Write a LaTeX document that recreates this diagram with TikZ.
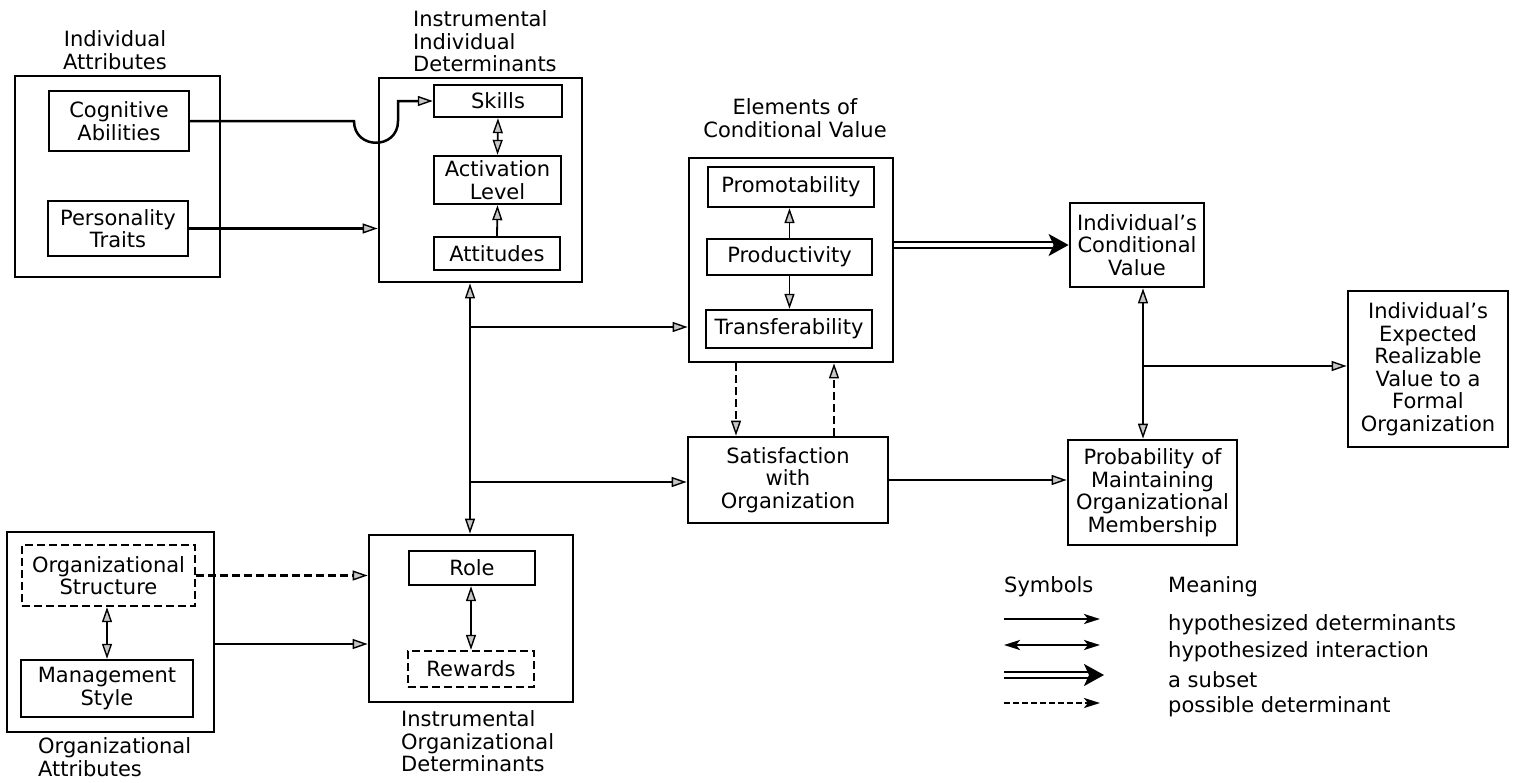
\documentclass[tikz,border=0pt]{standalone}
\usepackage{fontspec}
\setmainfont{DejaVu Sans}
\usetikzlibrary{arrows.meta}
\tikzset{
  outerbox/.style={draw, line width=2.8pt, inner sep=0pt},
  innerbox/.style={draw, line width=2.4pt, inner sep=0pt, align=center},
  dashbox/.style={innerbox, dash pattern=on 8pt off 4pt},
  lab/.style={inner sep=0pt},
  tipA/.tip={Triangle[length=15pt,width=10pt,fill=gray!45,line width=1.4pt]},
  arr/.style={line width=2.5pt, -tipA},
  arrboth/.style={line width=2.5pt, tipA-tipA},
  thinarr/.style={line width=1.8pt, -tipA},
  thinboth/.style={line width=1.8pt, tipA-tipA},
  darr/.style={arr, dash pattern=on 8pt off 4pt},
  subset/.style={line width=2.2pt, double=white, double distance=4pt, -{Stealth[length=20pt,width=22pt,inset=5pt]}},
  legtip/.tip={Stealth[length=16pt,width=10pt,inset=4pt]},
  legarr/.style={line width=2.4pt, -legtip},
  legboth/.style={line width=2.4pt, legtip-legtip},
}
\begin{document}
\begin{tikzpicture}[x=1pt, y=-1pt, font=\fontsize{21}{22.5}\selectfont]
\useasboundingbox (0,0) rectangle (1515,782);

% ---------- Individual attributes
\node[lab, align=center] (lia) at (115,50) {Individual\\Attributes};
\node[outerbox, minimum width=205, minimum height=201] (ia) at (117.5,176.5) {};
\node[innerbox, minimum width=140, minimum height=60] (cog) at (119,121) {Cognitive\\Abilities};
\node[innerbox, minimum width=140, minimum height=55] (pers) at (118,228.5) {Personality\\Traits};

% ---------- Instrumental individual determinants
\node[lab, align=left, anchor=west] (liid) at (413,41.5) {Instrumental\\Individual\\Determinants};
\node[outerbox, minimum width=203, minimum height=204] (iid) at (480.5,180) {};
\node[innerbox, minimum width=128, minimum height=32] (skills) at (498,101) {Skills};
\node[innerbox, minimum width=127, minimum height=48] (act) at (497.5,180) {Activation\\Level};
\node[innerbox, minimum width=126, minimum height=33] (att) at (497,253.5) {Attitudes};

% ---------- Elements of conditional value
\node[lab, align=center] (lel) at (795,118) {Elements of\\Conditional Value};
\node[outerbox, minimum width=204, minimum height=204] (elem) at (791,260) {};
\node[innerbox, minimum width=166, minimum height=40] (promo) at (791,187) {Promotability};
\node[innerbox, minimum width=165, minimum height=36] (prod) at (789.5,257) {Productivity};
\node[innerbox, minimum width=166, minimum height=38] (trans) at (789,329) {Transferability};

% ---------- Right side
\node[outerbox, align=center, minimum width=134, minimum height=84] (icv) at (1137,245) {Individual’s\\Conditional\\Value};
\node[outerbox, align=center, minimum width=160, minimum height=156] (exp) at (1428,369) {Individual’s\\Expected\\Realizable\\Value to a\\Formal\\Organization};
\node[outerbox, align=center, minimum width=200, minimum height=86] (sat) at (788,480) {Satisfaction\\with\\Organization};
\node[outerbox, align=center, minimum width=169, minimum height=105] (prob) at (1152.5,492.5) {Probability of\\Maintaining\\Organizational\\Membership};

% ---------- Organizational attributes
\node[outerbox, minimum width=207, minimum height=200] (oa) at (110.5,632) {};
\node[dashbox, minimum width=173, minimum height=61] (os) at (108.5,575.5) {Organizational\\Structure};
\node[innerbox, minimum width=172, minimum height=57] (ms) at (107,688.5) {Management\\Style};
\node[lab, align=left, anchor=west] (loa) at (38,757) {Organizational\\Attributes};

% ---------- Instrumental organizational determinants
\node[outerbox, minimum width=204, minimum height=167] (iod) at (471,618.5) {};
\node[innerbox, minimum width=126, minimum height=34] (role) at (472,568) {Role};
\node[dashbox, minimum width=126, minimum height=36] (rew) at (471,669) {Rewards};
\node[lab, align=left, anchor=west] (liod) at (401,741.5) {Instrumental\\Organizational\\Determinants};

% ---------- helper coordinates
\coordinate (h1) at (354,121);
\coordinate (h2) at (398,121);
\coordinate (bus) at (470,0);
\coordinate (b1) at (470,327);
\coordinate (b2) at (470,482);
\coordinate (cv) at (1143,0);
\coordinate (jn) at (1143,366);
\coordinate (d1) at (736,0);
\coordinate (d2) at (834,0);
\coordinate (oay) at (0,644);

% ---------- connectors
\draw[arr] (cog.east) -- (h1) .. controls (354,150) and (398,150) .. (h2) |- (skills.west);
\draw[arr] (pers.east) -- (pers.east -| iid.west);
\draw[thinboth] (skills.south) -- (act.north);
\draw[thinarr] (att.north) -- (act.south);
\draw[thinarr] (prod.north) -- (prod.north |- promo.south);
\draw[thinarr] (prod.south) -- (prod.south |- trans.north);

\draw[arrboth] (iid.south -| bus) -- (iod.north -| bus);
\draw[arr] (b1) -- (b1 -| elem.west);
\draw[arr] (b2) -- (b2 -| sat.west);

\draw[subset] (icv.west -| elem.east) -- (icv.west);
\draw[darr] (elem.south -| d1) -- (sat.north -| d1);
\draw[darr] (sat.north -| d2) -- (elem.south -| d2);
\draw[arr] (sat.east) -- (sat.east -| prob.west);
\draw[arrboth] (icv.south -| cv) -- (prob.north -| cv);
\draw[arr] (jn) -- (jn -| exp.west);

\draw[darr] (os.east) -- (os.east -| iod.west);
\draw[arr] (oa.east |- oay) -- (iod.west |- oay);
\draw[thinboth] (os.south -| ms.north) -- (ms.north);
\draw[thinboth] (role.south -| rew.north) -- (rew.north);

% ---------- legend
\node[lab, anchor=west] (lsym) at (1004,587) {Symbols};
\node[lab, anchor=west] (lmean) at (1168,587) {Meaning};
\coordinate (s1) at (1004,619); \coordinate (e1) at (1100,619);
\coordinate (s2) at (1004,645); \coordinate (e2) at (1100,645);
\coordinate (s3) at (1004,675); \coordinate (e3) at (1104,675);
\coordinate (s4) at (1004,703); \coordinate (e4) at (1100,703);
\draw[legarr] (s1) -- (e1);
\draw[legboth] (s2) -- (e2);
\draw[subset] (s3) -- (e3);
\draw[legarr, dash pattern=on 6pt off 3pt] (s4) -- (e4);
\node[lab, anchor=west] (m1) at (1168,625) {hypothesized determinants};
\node[lab, anchor=west] (m2) at (1168,652) {hypothesized interaction};
\node[lab, anchor=west] (m3) at (1168,680) {a subset};
\node[lab, anchor=west] (m4) at (1168,707) {possible determinant};
\end{tikzpicture}
\end{document}
